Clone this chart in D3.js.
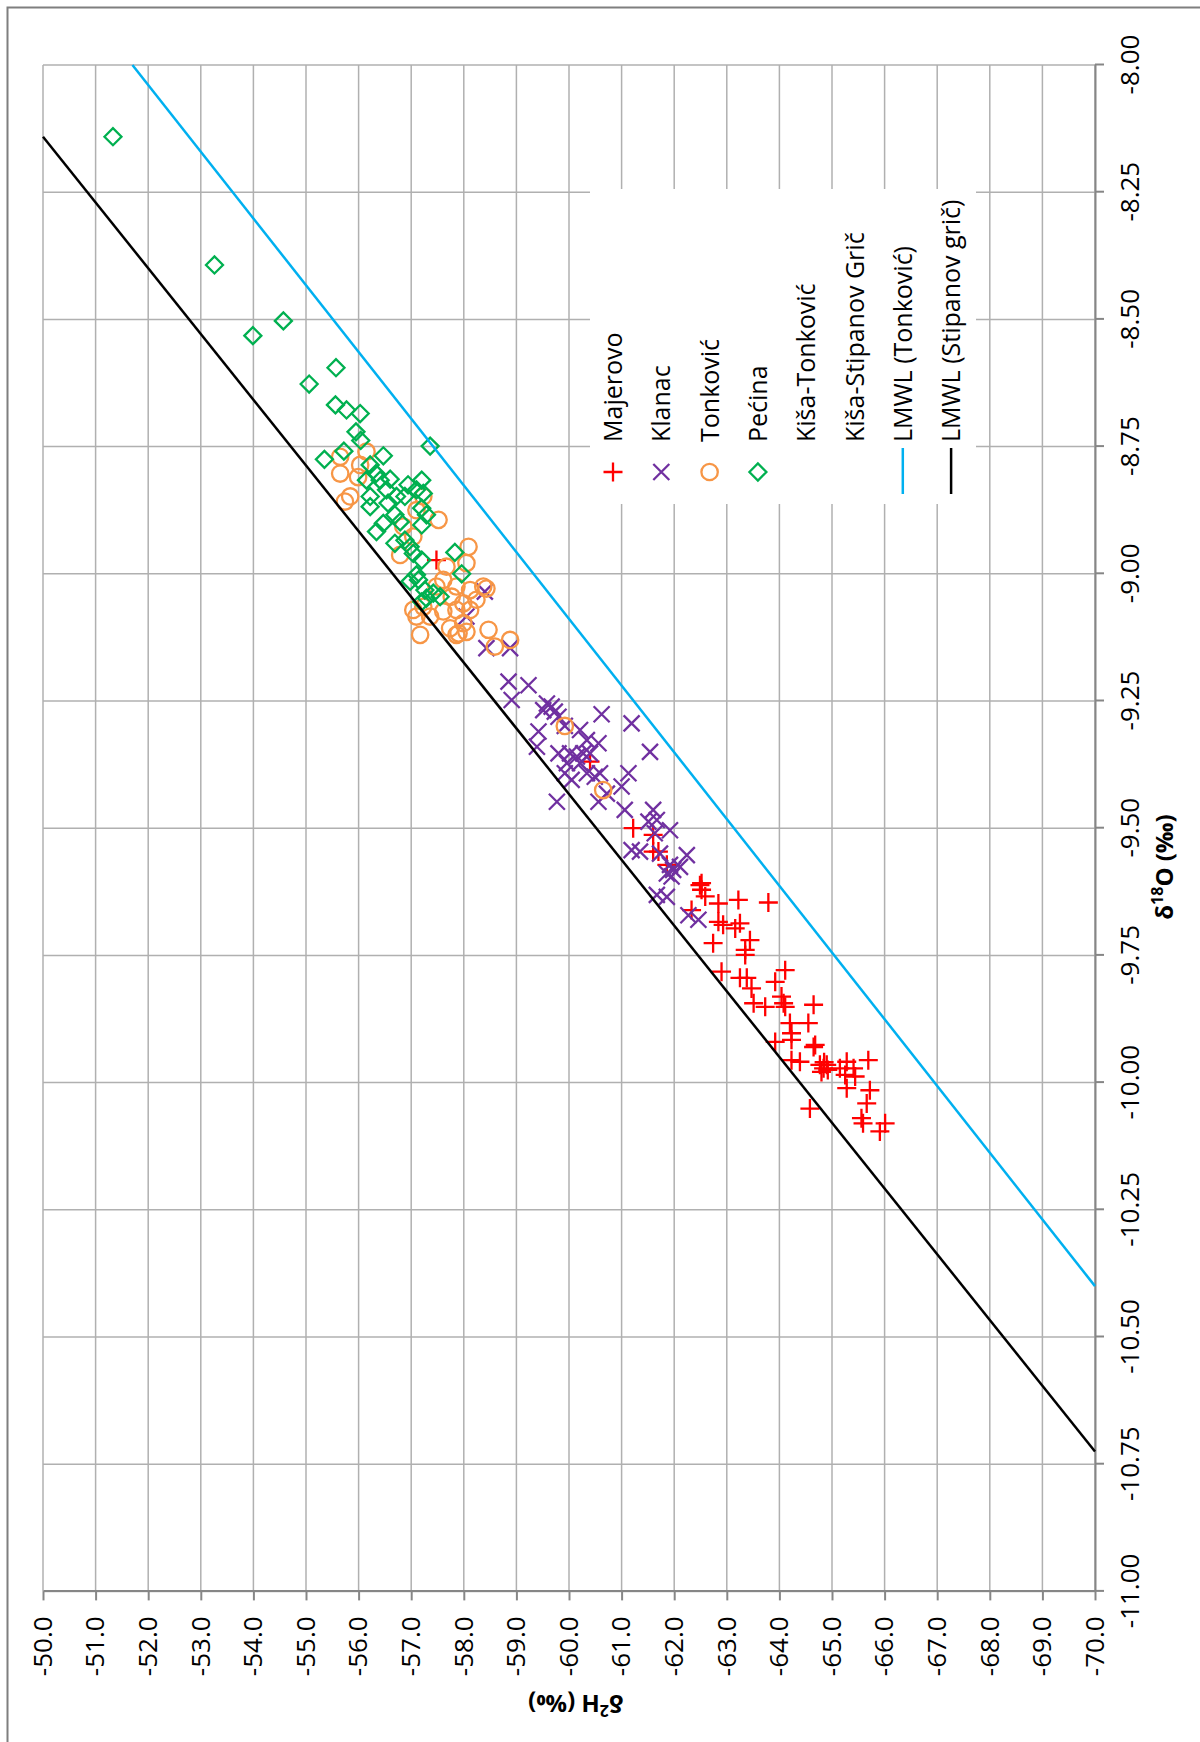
<!DOCTYPE html>
<html>
<head>
<meta charset="utf-8">
<script src="https://cdn.jsdelivr.net/npm/d3@7"></script>
<style>
  body { margin: 0; background: #fff; }
  text { font-family: "Open Sans", "DejaVu Sans", sans-serif; fill: #000; }
</style>
</head>
<body>
<div class="board"></div>
<script>
// chart is drawn upright, then turned 90deg counter-clockwise like the original page
var W = 1200, H = 1742

// [d18O, d2H]
var majerovo = [
    [-8.973, -57.48], [-9.369, -60.40], [-9.500, -61.22], [-9.513, -61.60], [-9.546, -61.60],
    [-9.546, -61.70], [-9.572, -61.86], [-9.608, -62.52], [-9.612, -62.49], [-9.621, -62.52],
    [-9.634, -62.59], [-9.648, -62.84], [-9.641, -63.22], [-9.646, -63.79], [-9.661, -62.33],
    [-9.684, -62.84], [-9.690, -62.93], [-9.697, -63.16], [-9.687, -63.25], [-9.726, -62.74],
    [-9.720, -63.44], [-9.739, -63.35], [-9.749, -63.35], [-9.782, -62.90], [-9.779, -64.11],
    [-9.794, -63.25], [-9.794, -63.38], [-9.802, -63.92], [-9.815, -63.47], [-9.831, -64.04],
    [-9.844, -64.08], [-9.844, -63.51], [-9.851, -63.73], [-9.847, -64.65], [-9.851, -64.11],
    [-9.883, -64.20], [-9.883, -64.55], [-9.903, -64.23], [-9.920, -63.92], [-9.916, -64.23],
    [-9.926, -64.68], [-9.930, -64.65], [-9.956, -64.23], [-9.959, -64.39], [-9.965, -64.77],
    [-9.972, -64.84], [-9.965, -64.90], [-9.979, -64.80], [-9.960, -64.85], [-9.975, -64.92],
    [-9.972, -65.15], [-9.959, -65.28], [-9.972, -65.41], [-9.985, -65.25], [-9.988, -65.44],
    [-9.956, -65.69], [-10.011, -65.28], [-10.015, -65.72], [-10.041, -65.66], [-10.051, -64.58],
    [-10.070, -65.56], [-10.080, -65.59], [-10.080, -66.01], [-10.096, -65.91]
]

var klanac = [
    [-9.146, -58.43], [-9.146, -58.88], [-9.035, -58.40], [-9.084, -58.05], [-9.212, -58.85],
    [-9.219, -59.23], [-9.248, -58.91], [-9.255, -59.58], [-9.261, -59.67], [-9.271, -59.73],
    [-9.268, -59.51], [-9.281, -59.80], [-9.276, -60.62], [-9.294, -61.19], [-9.310, -59.42],
    [-9.340, -59.39], [-9.299, -59.92], [-9.307, -60.21], [-9.327, -60.34], [-9.333, -60.56],
    [-9.353, -59.80], [-9.353, -60.02], [-9.359, -60.15], [-9.353, -60.27], [-9.353, -60.40],
    [-9.372, -59.96], [-9.372, -60.21], [-9.350, -61.54], [-9.392, -59.92], [-9.405, -60.05],
    [-9.392, -60.34], [-9.399, -60.49], [-9.392, -60.59], [-9.392, -61.13], [-9.418, -61.00],
    [-9.448, -59.77], [-9.448, -60.56], [-9.432, -60.72], [-9.464, -61.06], [-9.464, -61.60],
    [-9.487, -61.51], [-9.484, -61.67], [-9.504, -61.92], [-9.510, -61.63], [-9.543, -61.19],
    [-9.546, -61.35], [-9.550, -61.73], [-9.553, -62.24], [-9.572, -61.92], [-9.582, -61.98],
    [-9.589, -61.86], [-9.576, -62.11], [-9.595, -61.95], [-9.631, -61.67], [-9.635, -61.86],
    [-9.671, -62.27], [-9.680, -62.46]
]

var tonkovic = [
    [-8.760, -56.15], [-8.770, -55.65], [-8.786, -56.03], [-8.803, -55.65], [-8.848, -55.84],
    [-8.858, -55.74], [-8.810, -55.99], [-8.848, -57.23], [-8.875, -57.10], [-8.894, -57.52],
    [-8.927, -57.04], [-8.907, -56.85], [-8.963, -56.79], [-8.947, -58.09], [-8.979, -58.05],
    [-8.986, -57.67], [-9.012, -57.61], [-9.025, -57.48], [-9.025, -57.86], [-9.045, -57.77],
    [-9.032, -58.12], [-9.025, -58.37], [-9.051, -58.24], [-9.058, -57.99], [-9.071, -57.86],
    [-9.074, -57.61], [-9.071, -58.12], [-9.097, -57.99], [-9.114, -58.05], [-9.120, -57.86],
    [-9.107, -57.74], [-9.065, -57.23], [-9.084, -57.10], [-9.084, -57.36], [-9.120, -57.17],
    [-9.071, -57.04], [-9.110, -58.47], [-9.029, -58.43], [-9.117, -57.90], [-9.130, -58.88],
    [-9.143, -58.59], [-9.299, -59.92], [-9.425, -60.65]
]

var pecina = [
    [-8.141, -51.33], [-8.393, -53.26], [-8.532, -53.99], [-8.503, -54.57], [-8.595, -55.57],
    [-8.627, -55.06], [-8.668, -55.56], [-8.678, -55.77], [-8.685, -56.03], [-8.721, -55.95],
    [-8.738, -56.04], [-8.759, -55.72], [-8.775, -55.35], [-8.768, -56.47], [-8.786, -56.22],
    [-8.749, -57.36], [-8.803, -56.33], [-8.816, -56.15], [-8.816, -56.41], [-8.814, -56.60],
    [-8.835, -56.53], [-8.848, -56.22], [-8.825, -56.94], [-8.816, -57.20], [-8.835, -57.10],
    [-8.848, -56.88], [-8.842, -57.23], [-8.868, -56.22], [-8.861, -56.56], [-8.848, -56.72],
    [-8.871, -57.20], [-8.884, -57.29], [-8.884, -56.69], [-8.898, -56.79], [-8.901, -56.47],
    [-8.917, -56.34], [-8.904, -57.20], [-8.940, -56.69], [-8.934, -56.88], [-8.947, -56.98],
    [-8.960, -57.04], [-8.973, -57.20], [-8.958, -57.83], [-9.000, -57.96], [-9.002, -57.10],
    [-9.015, -56.98], [-9.012, -57.14], [-9.032, -57.26], [-9.038, -57.42], [-9.045, -57.55],
    [-9.048, -57.29], [-9.055, -57.20]
]

var kisaTonkovic = []
var kisaStipanov = []

// LMWL lines, end points [d18O, d2H]
var lmwlTonkovic = [[-8.00, -51.70], [-10.40, -70.00]]
var lmwlStipanov = [[-8.141, -50.00], [-10.725, -70.00]]

var d18OTicks = [-11.00, -10.75, -10.50, -10.25, -10.00, -9.75, -9.50, -9.25, -9.00, -8.75, -8.50, -8.25, -8.00]
var d2HTicks = [-50, -51, -52, -53, -54, -55, -56, -57, -58, -59, -60,
    -61, -62, -63, -64, -65, -66, -67, -68, -69, -70]

var legendNames = ["Majerovo", "Klanac", "Tonković", "Pećina", "Kiša-Tonković",
    "Kiša-Stipanov Grič", "LMWL (Tonković)", "LMWL (Stipanov grič)"]

var svg = d3.select(".board")
    .append("svg")
    .attr("width", W)
    .attr("height", H)

// page frame
svg.append("rect")
    .attr("x", 7.5).attr("y", 7.5)
    .attr("width", W + 50).attr("height", H + 50)
    .attr("fill", "none")
    .attr("stroke", "#7f7f7f")
    .attr("stroke-width", 2)

var g = svg.append("g")
    .attr("transform", `translate(0, ${H}) rotate(-90)`)

// inner (upright) chart coordinates: width H, height W
var xScale = d3.scaleLinear()
    .domain([-11, -8])
    .range([150.6, 1677])

var yScale = d3.scaleLinear()
    .domain([-50, -70])
    .range([43, 1095])

// grid
g.selectAll(".vgrid")
    .data(d18OTicks)
    .enter()
    .append("line")
    .attr("x1", d => xScale(d)).attr("x2", d => xScale(d))
    .attr("y1", yScale(-50)).attr("y2", yScale(-70))
    .attr("stroke", "#b0b0b0")
    .attr("stroke-width", 1.5)

g.selectAll(".hgrid")
    .data(d2HTicks)
    .enter()
    .append("line")
    .attr("y1", d => yScale(d)).attr("y2", d => yScale(d))
    .attr("x1", xScale(-11)).attr("x2", xScale(-8))
    .attr("stroke", "#b0b0b0")
    .attr("stroke-width", 1.5)

// axes
var xAxis = g.append("g")
    .attr("transform", `translate(0, ${yScale(-70)})`)
    .call(d3.axisBottom(xScale)
        .tickValues(d18OTicks)
        .tickFormat(d => d.toFixed(2))
        .tickSize(9)
        .tickSizeOuter(0)
        .tickPadding(17))

var yAxis = g.append("g")
    .attr("transform", `translate(${xScale(-11)}, 0)`)
    .call(d3.axisLeft(yScale)
        .tickValues(d2HTicks)
        .tickFormat(d => d.toFixed(1))
        .tickSize(9)
        .tickSizeOuter(0)
        .tickPadding(16))

;[xAxis, yAxis].forEach(ax => {
    ax.selectAll("path, line").attr("stroke", "#868686").attr("stroke-width", 2)
    ax.selectAll("text")
        .style("font-family", '"Open Sans", sans-serif')
        .style("font-size", "26px")
        .attr("fill", "#000")
})

// legend background hides grid
g.append("rect")
    .attr("x", 1238).attr("y", 590)
    .attr("width", 315).attr("height", 386)
    .attr("fill", "#fff")

// marker shapes
function plusPath(s) { return `M${-s},0H${s}M0,${-s}V${s}` }
function crossPath(s) { return `M${-s},${-s}L${s},${s}M${-s},${s}L${s},${-s}` }
function diamondPath(s) { return `M0,${-s}L${s},0L0,${s}L${-s},0Z` }
function circlePath(r) { return d3.arc()({ innerRadius: 0, outerRadius: r, startAngle: 0, endAngle: 2 * Math.PI }) }

var series = [
    { data: majerovo, color: "#ff0000", path: plusPath(9.5) },
    { data: klanac, color: "#7030a0", path: crossPath(8) },
    { data: tonkovic, color: "#f79646", path: circlePath(8.2) },
    { data: pecina, color: "#00b050", path: diamondPath(8.5) },
    { data: kisaTonkovic, color: "none", path: null },
    { data: kisaStipanov, color: "none", path: null }
]

series.forEach(s => {
    g.append("g")
        .selectAll("path")
        .data(s.data)
        .enter()
        .append("path")
        .attr("d", s.path)
        .attr("fill", "none")
        .attr("stroke", s.color)
        .attr("stroke-width", 2.3)
        .attr("transform", d => `translate(${xScale(d[0])}, ${yScale(d[1])})`)
})

var line = d3.line()
    .x(d => xScale(d[0]))
    .y(d => yScale(d[1]))

g.append("path")
    .datum(lmwlTonkovic)
    .attr("d", line)
    .attr("fill", "none")
    .attr("stroke", "#00b0f0")
    .attr("stroke-width", 2.5)

g.append("path")
    .datum(lmwlStipanov)
    .attr("d", line)
    .attr("fill", "none")
    .attr("stroke", "#000")
    .attr("stroke-width", 2.5)

// legend entries
var legendMarks = [
    { type: "mark", color: "#ff0000", path: plusPath(9.5) },
    { type: "mark", color: "#7030a0", path: crossPath(8) },
    { type: "mark", color: "#f79646", path: circlePath(8.2) },
    { type: "mark", color: "#00b050", path: diamondPath(8.5) },
    { type: "none" },
    { type: "none" },
    { type: "line", color: "#00b0f0" },
    { type: "line", color: "#000" }
]

legendNames.forEach((name, i) => {
    var cy = 613 + i * 48.3
    var m = legendMarks[i]
    if (m.type == "mark") {
        g.append("path")
            .attr("d", m.path)
            .attr("fill", "none")
            .attr("stroke", m.color)
            .attr("stroke-width", 2.3)
            .attr("transform", `translate(1270, ${cy})`)
    }
    else if (m.type == "line") {
        g.append("line")
            .attr("x1", 1248).attr("x2", 1294)
            .attr("y1", cy).attr("y2", cy)
            .attr("stroke", m.color)
            .attr("stroke-width", 2.5)
    }
    g.append("text")
        .attr("x", 1300)
        .attr("y", cy)
        .attr("dy", "0.36em")
        .style("font-size", "25px")
        .text(name)
})

// axis titles
var xTitle = g.append("text")
    .attr("x", 875)
    .attr("y", 1173)
    .attr("text-anchor", "middle")
    .style("font-size", "24px")
    .style("font-weight", "bold")
xTitle.append("tspan").text("δ")
xTitle.append("tspan").attr("dy", -10).style("font-size", "16px").text("18")
xTitle.append("tspan").attr("dy", 10).text("O (‰)")

var yTitle = g.append("text")
    .attr("transform", "translate(47, 576) rotate(-90)")
    .attr("text-anchor", "middle")
    .style("font-size", "24px")
    .style("font-weight", "bold")
yTitle.append("tspan").text("δ")
yTitle.append("tspan").attr("dy", -10).style("font-size", "16px").text("2")
yTitle.append("tspan").attr("dy", 10).text("H (‰)")
</script>
</body>
</html>
